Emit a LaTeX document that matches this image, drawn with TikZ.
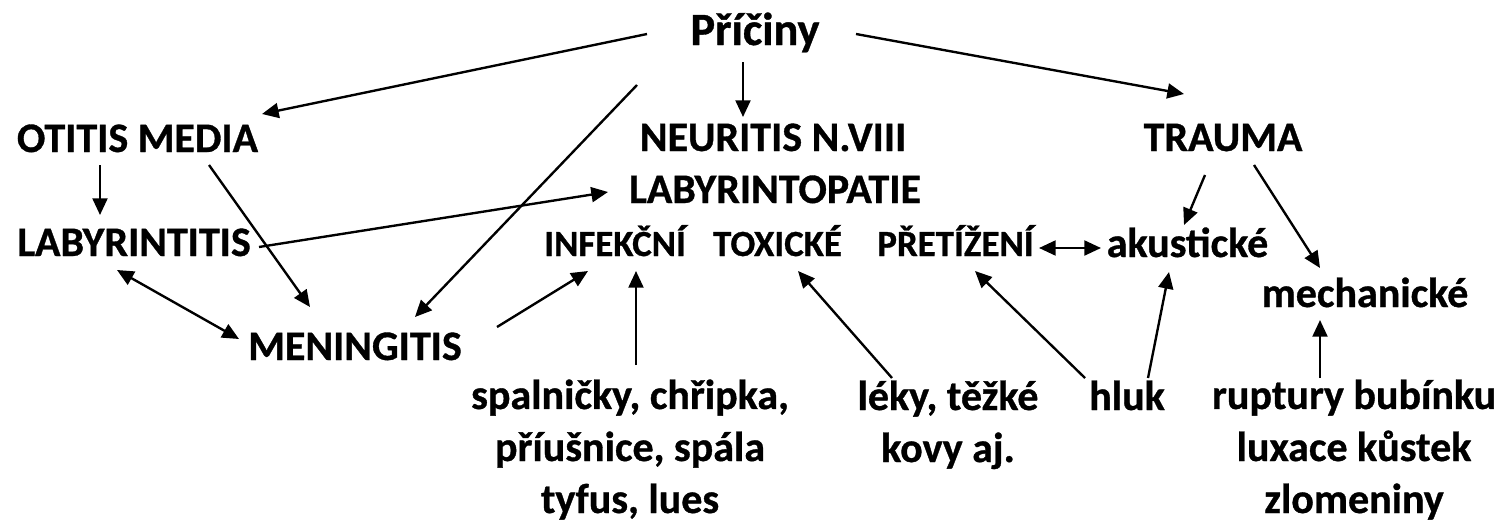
\documentclass[tikz,border=0pt]{standalone}
\usepackage{fontspec}
\setmainfont{Carlito}[BoldFeatures={FakeBold=0.8}]
\usepackage{tikz}
\usetikzlibrary{arrows.meta,calc,positioning}
\definecolor{inkblack}{HTML}{000000}
\tikzset{
  vector/.style={inkblack, -{Triangle[length=9.5pt,width=8.5pt]}, line width=1.35pt},
  dualvector/.style={inkblack, {Triangle[length=9.5pt,width=8.5pt]}-{Triangle[length=9.5pt,width=8.5pt]}, line width=1.35pt},
  termnode/.style={inner sep=0pt, anchor=base, align=center, text=inkblack, font=\fontsize{23.9pt}{29.6pt}\selectfont\bfseries},
  smallnode/.style={termnode, font=\fontsize{21pt}{26pt}\selectfont\bfseries},
  titlenode/.style={termnode, font=\fontsize{26.3pt}{32pt}\selectfont\bfseries}
}

\begin{document}
\begin{tikzpicture}[x=0.02cm, y=-0.02cm]
  \useasboundingbox (0,0) rectangle (1506,524);
  % causes
  \node[titlenode] (prici) at (755,45) {Příčiny};
  \node[termnode] (otitis) at (137.5,152) {OTITIS MEDIA};
  \node[termnode] (neur) at (773,151) {NEURITIS N.VIII};
  \node[termnode] (trauma) at (1223,151) {TRAUMA};
  \node[termnode] (labpat) at (775,203) {LABYRINTOPATIE};
  \node[termnode] (labit) at (134,256) {LABYRINTITIS};
  \node[termnode] (menin) at (355,360) {MENINGITIS};
  % kinds
  \node[smallnode] (infek) at (615,256) {INFEKČNÍ};
  \node[smallnode] (toxic) at (777.5,256) {TOXICKÉ};
  \node[smallnode] (pretiz) at (955.5,256) {PŘETÍŽENÍ};
  \node[termnode] (akust) at (1187.5,257) {akustické};
  \node[termnode] (mech) at (1365,307) {mechanické};
  % examples (base = last line)
  \node[termnode] (spal) at (630,513) {spalničky, chřipka,\\příušnice, spála\\tyfus, lues};
  \node[termnode] (leky) at (948,462) {léky, těžké\\kovy aj.};
  \node[termnode] (hluk) at (1127,410) {hluk};
  \node[termnode] (rupt) at (1354,513) {ruptury bubínku\\luxace kůstek\\zlomeniny};

  \draw[vector] ([shift={(-108,-11)}]prici.base) -- ([shift={(124.5,-38)}]otitis.base);
  \draw[vector] ([shift={(-12,17)}]prici.base) -- ([shift={(-30,-34)}]neur.base);
  \draw[vector] ([shift={(-118,40)}]prici.base) -- ([shift={(60,-43)}]menin.base);
  \draw[vector] ([shift={(101,-11)}]prici.base) -- ([shift={(-39,-57)}]trauma.base);
  \draw[vector] ([shift={(-37.5,13)}]otitis.base) -- ([shift={(-34,-41)}]labit.base);
  \draw[vector] ([shift={(71.5,13)}]otitis.base) -- ([shift={(-45,-53)}]menin.base);
  \draw[vector] ([shift={(125,-9)}]labit.base) -- ([shift={(-167,-11)}]labpat.base);
  \draw[dualvector] ([shift={(-17,14)}]labit.base) -- ([shift={(-116,-21)}]menin.base);
  \draw[vector] ([shift={(142,-33)}]menin.base) -- ([shift={(-27,15)}]infek.base);
  \draw[vector] ([shift={(6,-148)}]spal.base) -- ([shift={(21,15)}]infek.base);
  \draw[vector] ([shift={(-56,-84)}]leky.base) -- ([shift={(20.5,15)}]toxic.base);
  \draw[vector] ([shift={(-42,-32)}]hluk.base) -- ([shift={(19.5,15)}]pretiz.base);
  \draw[vector] ([shift={(21,-32)}]hluk.base) -- ([shift={(-18.5,15)}]akust.base);
  \draw[dualvector] ([shift={(83.5,-8)}]pretiz.base) -- ([shift={(-86.5,-9)}]akust.base);
  \draw[vector] ([shift={(-18,24)}]trauma.base) -- ([shift={(-3.5,-32)}]akust.base);
  \draw[vector] ([shift={(31,14)}]trauma.base) -- ([shift={(-45,-39)}]mech.base);
  \draw[vector] ([shift={(-34,-135)}]rupt.base) -- ([shift={(-45,13)}]mech.base);
\end{tikzpicture}
\end{document}
